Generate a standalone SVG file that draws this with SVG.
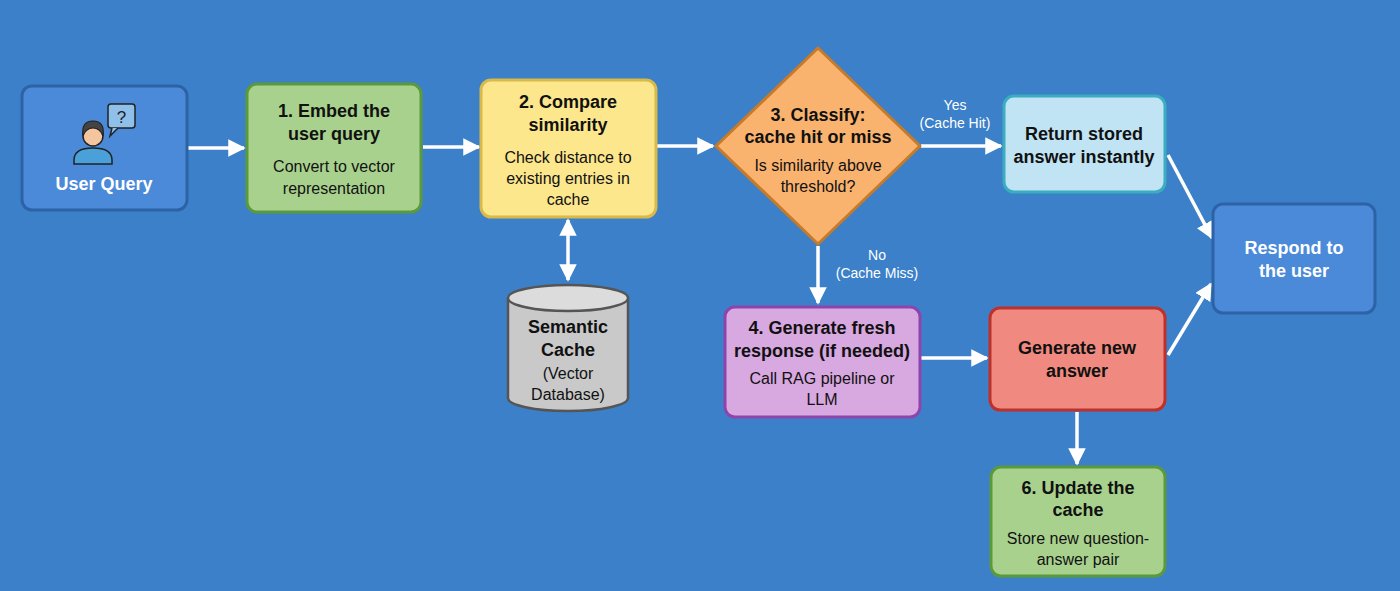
<svg xmlns="http://www.w3.org/2000/svg" width="1400" height="591" viewBox="0 0 1400 591">
<defs>
<style>
.t{font-family:"Liberation Sans",Arial,sans-serif;text-anchor:middle;fill:#111}
.b{font-weight:bold;font-size:18px}
.s{font-size:16px}
.w{fill:#fff}
.l{font-size:14px;fill:#fff;font-family:"Liberation Sans",Arial,sans-serif;text-anchor:middle}
.c{stroke:#fff;stroke-width:3.5;fill:none}
</style>
<marker id="a" viewBox="0 0 10 10" refX="9" refY="5" markerWidth="5" markerHeight="5" orient="auto-start-reverse"><path d="M0,0L10,5L0,10z" fill="#fff"/></marker>
</defs>
<rect width="1400" height="591" fill="#3b80c9"/>
<g id="connectors">
<path class="c" marker-end="url(#a)" d="M188,148H244"/>
<path class="c" marker-end="url(#a)" d="M423,147H479"/>
<path class="c" marker-end="url(#a)" d="M657,146H713"/>
<path class="c" marker-end="url(#a)" d="M921,146H1001"/>
<path class="c" marker-end="url(#a)" d="M818,246V303"/>
<path class="c" marker-start="url(#a)" marker-end="url(#a)" d="M568,220V280"/>
<path class="c" marker-end="url(#a)" d="M921,358H987"/>
<path class="c" marker-end="url(#a)" d="M1077,412V464"/>
<path class="c" marker-end="url(#a)" d="M1168,155L1212,238"/>
<path class="c" marker-end="url(#a)" d="M1168,355L1211,284"/>
<text class="l" x="955" y="110">Yes</text>
<text class="l" x="955" y="128">(Cache Hit)</text>
<text class="l" x="877" y="260">No</text>
<text class="l" x="877" y="278">(Cache Miss)</text>
</g>
<g id="user">
<rect x="22" y="86" width="165" height="124" rx="10" fill="#4a8ad9" stroke="#2e62a6" stroke-width="3"/>
<rect x="108" y="104" width="27" height="24" rx="3" fill="#8fc0ea" stroke="#222" stroke-width="1.5"/>
<path d="M112,128l-2,8l8,-8" fill="#8fc0ea" stroke="#222" stroke-width="1.5"/>
<text x="121.5" y="123" font-family="Liberation Sans,sans-serif" font-size="17" text-anchor="middle" fill="#222">?</text>
<path d="M74,164v-4q0-12,19-12q19,0,19,12v4z" fill="#4aa0d8" stroke="#222" stroke-width="1.5"/>
<circle cx="93" cy="136" r="10" fill="#f5c5a0" stroke="#222" stroke-width="1.5"/>
<path d="M83,136q-2-15,10-15q12,0,10,15q-3-8-10-8q-7,0-10,8z" fill="#444" stroke="#222" stroke-width="1.2"/>
<text class="t b w" x="104" y="190">User Query</text>
</g>
<g id="embed">
<rect x="247" y="84" width="174" height="128" rx="10" fill="#a9d18e" stroke="#5a9a3a" stroke-width="3"/>
<text class="t b" x="334" y="117">1. Embed the</text>
<text class="t b" x="334" y="140">user query</text>
<text class="t s" x="334" y="172">Convert to vector</text>
<text class="t s" x="334" y="194">representation</text>
</g>
<g id="compare">
<rect x="481" y="80" width="175" height="137" rx="10" fill="#fde78c" stroke="#d8b94a" stroke-width="3"/>
<text class="t b" x="568" y="108">2. Compare</text>
<text class="t b" x="568" y="131">similarity</text>
<text class="t s" x="568" y="163">Check distance to</text>
<text class="t s" x="568" y="184">existing entries in</text>
<text class="t s" x="568" y="205">cache</text>
</g>
<g id="cache">
<path d="M508,298V398A60,13 0 0 0 628,398V298" fill="#c9c9c9" stroke="#555" stroke-width="2.5"/>
<ellipse cx="568" cy="298" rx="60" ry="13" fill="#dcdcdc" stroke="#555" stroke-width="2.5"/>
<text class="t b" x="568" y="333">Semantic</text>
<text class="t b" x="568" y="356">Cache</text>
<text class="t s" x="568" y="379" font-size="18">(Vector</text>
<text class="t s" x="568" y="400" font-size="18">Database)</text>
</g>
<g id="classify">
<path d="M818,48L920,146L818,244L716,146z" fill="#f9b36f" stroke="#c77a28" stroke-width="3" stroke-linejoin="round"/>
<text class="t b" x="818" y="121">3. Classify:</text>
<text class="t b" x="818" y="143">cache hit or miss</text>
<text class="t s" x="818" y="171">Is similarity above</text>
<text class="t s" x="818" y="192">threshold?</text>
</g>
<g id="return">
<rect x="1004" y="96" width="161" height="96" rx="10" fill="#c0e4f4" stroke="#3aaec0" stroke-width="3"/>
<text class="t b" x="1084" y="140">Return stored</text>
<text class="t b" x="1084" y="163">answer instantly</text>
</g>
<g id="respond">
<rect x="1213" y="204" width="162" height="109" rx="10" fill="#4a8ad9" stroke="#2e62a6" stroke-width="3"/>
<text class="t b w" x="1294" y="254">Respond to</text>
<text class="t b w" x="1294" y="277">the user</text>
</g>
<g id="fresh">
<rect x="725" y="307" width="195" height="110" rx="10" fill="#d8a8e0" stroke="#8e44ad" stroke-width="3"/>
<text class="t b" x="822" y="334">4. Generate fresh</text>
<text class="t b" x="822" y="357">response (if needed)</text>
<text class="t s" x="822" y="384">Call RAG pipeline or</text>
<text class="t s" x="822" y="405">LLM</text>
</g>
<g id="newans">
<rect x="990" y="308" width="175" height="102" rx="10" fill="#f08a80" stroke="#c0302b" stroke-width="3"/>
<text class="t b" x="1077" y="354">Generate new</text>
<text class="t b" x="1077" y="377">answer</text>
</g>
<g id="update">
<rect x="991" y="467" width="174" height="109" rx="10" fill="#a9d18e" stroke="#5a9a3a" stroke-width="3"/>
<text class="t b" x="1078" y="494">6. Update the</text>
<text class="t b" x="1078" y="516">cache</text>
<text class="t s" x="1078" y="544">Store new question-</text>
<text class="t s" x="1078" y="565">answer pair</text>
</g>
</svg>
